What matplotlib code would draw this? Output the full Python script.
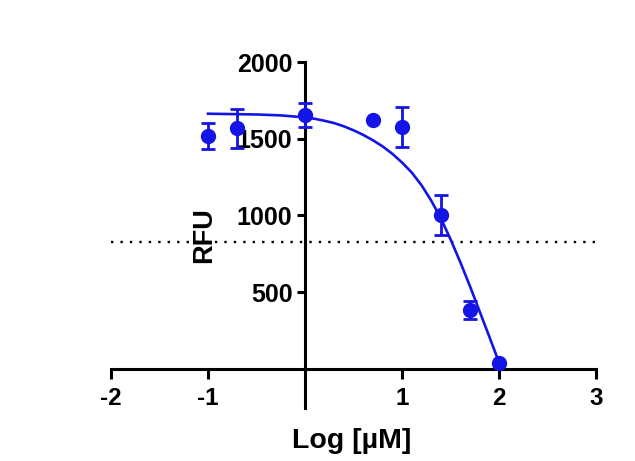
import matplotlib.pyplot as plt

# measured points (log uM, RFU, SEM)
log_conc = [-1.0, -0.7, 0.0, 0.7, 1.0, 1.4, 1.7, 2.0]
rfu = [1518, 1568, 1655, 1622, 1575, 1003, 384, 37]
rfu_err = [87, 127, 78, 0, 129, 130, 60, 0]

# fitted curve
fit_x = [-1.0, -0.5, -0.25, 0.0, 0.1, 0.2, 0.3, 0.4, 0.5, 0.6, 0.7, 0.8, 0.9, 1.0,
         1.1, 1.2, 1.3, 1.4, 1.5, 1.6, 1.7, 1.8, 1.9, 2.0]
fit_y = [1663, 1658, 1652, 1639, 1630, 1617, 1602, 1581, 1555, 1525, 1490, 1450, 1402, 1345,
         1280, 1198, 1098, 982, 845, 697, 540, 375, 210, 42]

half_max = 825

xticks = [-2, -1, 1, 2, 3]
yticks = [500, 1000, 1500, 2000]

BLUE = '#1414e6'

plt.rcParams['font.family'] = ['Liberation Sans', 'DejaVu Sans']
plt.rcParams['font.weight'] = 'bold'

fig = plt.figure(figsize=(6.35, 4.61), dpi=100)
W, H = 635.0, 461.0
ax = fig.add_axes([111 / W, 1 - 408 / H, (596 - 111) / W, (408 - 62) / H])
ax.set_xlim(-2, 3)
ax.set_ylim(-255, 2000)

ax.axhline(half_max, color='black', lw=1.7, linestyle=(0, (1, 3)), zorder=1)
ax.plot(fit_x, fit_y, color=BLUE, lw=1.9, zorder=3, solid_joinstyle='round')
ax.errorbar(log_conc, rfu, yerr=rfu_err, fmt='o', color=BLUE, ms=10,
            elinewidth=2, capsize=5, capthick=2, zorder=4, clip_on=False)

for s in ['top', 'right']:
  ax.spines[s].set_visible(False)
ax.spines['left'].set_position(('data', 0))
ax.spines['bottom'].set_position(('data', 0))
ax.spines['left'].set_linewidth(2.2)
ax.spines['bottom'].set_linewidth(2.2)
ax.spines['bottom'].set_bounds(-2, 3)

ax.set_xticks(xticks)
ax.set_xticklabels([str(v) for v in xticks])
ax.set_yticks(yticks)
ax.set_yticklabels([str(v) for v in yticks])
ax.tick_params(axis='x', length=7, width=2.2, labelsize=17.5, pad=6)
ax.tick_params(axis='y', length=6, width=2.2, labelsize=18, pad=3)
for lab in ax.get_xticklabels() + ax.get_yticklabels():
  lab.set_fontweight('bold')

fig.text(204 / W, 1 - 235 / H, 'RFU', rotation=90, ha='center', va='center',
         fontsize=19.5, fontweight='bold')
fig.text(352 / W, 1 - 441 / H, 'Log [µM]', ha='center', va='center',
         fontsize=20.5, fontweight='bold')

plt.savefig('out.png', dpi=100)
